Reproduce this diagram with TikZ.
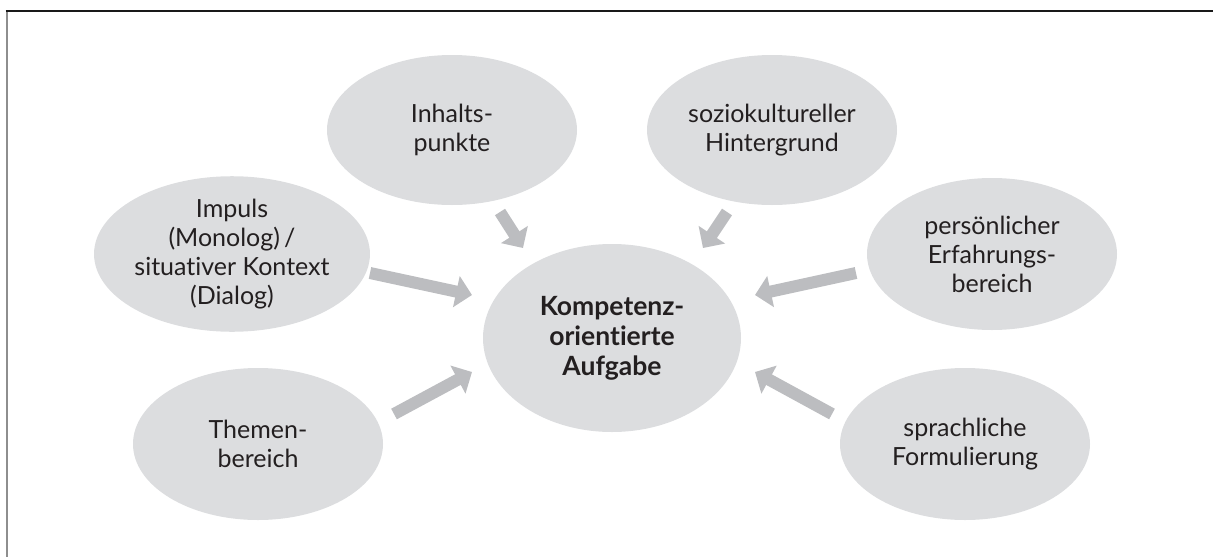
\documentclass[tikz,border=0pt]{standalone}
\usepackage{fontspec}
\setmainfont[Ligatures={NoCommon}]{Lato}
\usetikzlibrary{shapes.geometric,arrows.meta}
\definecolor{ellfill}{HTML}{DCDDDF}
\definecolor{arrgray}{HTML}{BCBDC0}
\definecolor{leftline}{HTML}{8E8E8E}
\definecolor{txt}{HTML}{231F20}
\begin{document}
\begin{tikzpicture}[x=1pt,y=-1pt,
  bubble/.style={ellipse, fill=ellfill, inner sep=0pt, minimum width=250pt, minimum height=152pt,
    align=center, text=txt, font=\fontsize{25}{29}\selectfont},
  bigarrow/.style={draw=arrgray, line width=12pt, -{Triangle[length=16pt,width=31pt]}}]
\useasboundingbox (0,0) rectangle (1213,557);
% frame
\draw[leftline, line width=2pt] (6.5,11) -- (6.5,557);
\draw[black!90, line width=1.2pt] (5.5,11) -- (1213,11);
% nodes
\node[bubble, minimum width=258pt, minimum height=188pt, font=\fontsize{26.5}{30}\selectfont\bfseries] (main) at (612,338) {Kompetenz-\\orientierte\\Aufgabe};
\node[bubble, minimum height=150pt] (inh) at (452,130) {Inhalts-\\punkte};
\node[bubble, minimum height=150pt] (soz) at (772,130) {soziokultureller\\Hintergrund};
\node[bubble] (imp) at (232,254) {Impuls\\(Monolog)\,/\\situativer Kontext\\(Dialog)};
\node[bubble] (per) at (992,254) {persönlicher\\Erfahrungs-\\bereich};
\node[bubble] (the) at (258,444) {Themen-\\bereich};
\node[bubble] (spr) at (965,444) {sprachliche\\Formulierung};
% arrow ends
\coordinate (inhS) at (500,212);  \coordinate (inhE) at (523,248);
\coordinate (impS) at (370,273);  \coordinate (impE) at (472,295);
\coordinate (sozS) at (727,212);  \coordinate (sozE) at (703,248);
\coordinate (perS) at (856,273);  \coordinate (perE) at (755,295);
\coordinate (theS) at (394,414);  \coordinate (theE) at (472,372);
\coordinate (sprS) at (832,414);  \coordinate (sprE) at (755,372);
\draw[bigarrow] (inhS) -- (inhE);
\draw[bigarrow] (impS) -- (impE);
\draw[bigarrow] (sozS) -- (sozE);
\draw[bigarrow] (perS) -- (perE);
\draw[bigarrow] (theS) -- (theE);
\draw[bigarrow] (sprS) -- (sprE);
\end{tikzpicture}
\end{document}
